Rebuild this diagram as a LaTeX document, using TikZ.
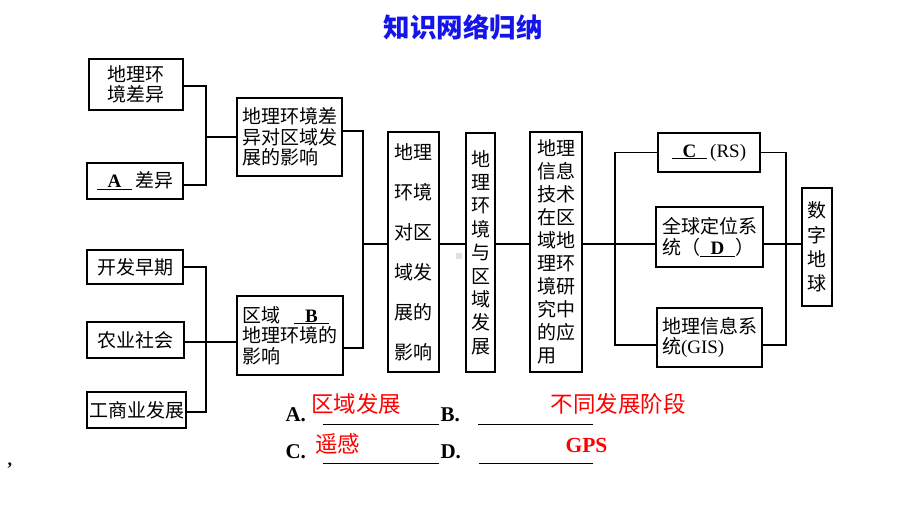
\documentclass[tikz,border=0pt]{standalone}
\usepackage{fontspec}
\setmainfont{Noto Sans CJK SC}
\newfontfamily\lat{Liberation Serif}
\definecolor{titleblue}{RGB}{20,20,235}
\newcommand{\blank}[1]{\underline{\makebox[1.85em]{\lat\bfseries #1}}}
\begin{document}
\begin{tikzpicture}[x=1pt, y=-1pt, line width=1.1pt,
  box/.style={draw, inner sep=0pt, align=left, font=\fontsize{19}{20.5}\selectfont},
  ans/.style={text=red, inner sep=0pt, font=\fontsize{22.5}{22.5}\selectfont},
  letter/.style={anchor=base west, inner sep=0pt, font=\lat\bfseries\fontsize{21}{21}\selectfont}]
\useasboundingbox (0,0) rectangle (920,518);
\node[font=\fontsize{26.5}{26.5}\selectfont\bfseries, text=titleblue] (title) at (463,27) {知识网络归纳};
% left column
\node[box, minimum width=94pt, minimum height=51pt] (cy) at (136,84.5) {地理环\\境差异};
\node[box, minimum width=96pt, minimum height=36pt] (acy) at (135,181) {\blank{A}\,差异};
\node[box, minimum width=96pt, minimum height=34pt] (kfzq) at (135,267) {开发早期};
\node[box, minimum width=97pt, minimum height=36pt] (nysh) at (135.5,340) {农业社会};
\node[box, minimum width=99pt, minimum height=36pt] (gsyfz) at (136.5,410) {工商业发展};
% second column
\node[box, minimum width=105pt, minimum height=78pt] (cyyx) at (289.5,137) {地理环境差\\异对区域发\\展的影响};
\node[box, minimum width=106pt, minimum height=79pt] (qyb) at (290,335.5) {区域\hspace{0.7em}\blank{B}\\地理环境的\\影响};
% middle columns
\node[box, align=center, minimum width=51pt, minimum height=240pt,
  font=\fontsize{19}{40}\selectfont] (dlyx) at (413.5,252) {地理\\环境\\对区\\域发\\展的\\影响};
\node[box, align=center, minimum width=29pt, minimum height=239pt,
  font=\fontsize{19}{23.4}\selectfont] (dlqy) at (480.5,252.5) {地\\理\\环\\境\\与\\区\\域\\发\\展};
\node[box, minimum width=52pt, minimum height=240pt,
  font=\fontsize{19}{23}\selectfont] (xxjs) at (556,252) {地理\\信息\\技术\\在区\\域地\\理环\\境研\\究中\\的应\\用};
% right column
\node[box, minimum width=102pt, minimum height=39pt] (rs) at (709,152.5) {\blank{C}\,{\lat(RS)}};
\node[box, minimum width=107pt, minimum height=60pt] (gps) at (709.5,237) {全球定位系\\统（\blank{D}）};
\node[box, minimum width=105pt, minimum height=59pt] (gis) at (709.5,337.5) {地理信息系\\统{\lat(GIS)}};
\node[box, align=center, minimum width=30pt, minimum height=118pt,
  font=\fontsize{19}{24.4}\selectfont] (szdq) at (817,247) {数\\字\\地\\球};
% junctions
\coordinate (ja) at (206,137);
\coordinate (jb) at (206,342);
\coordinate (hub) at (363,244);
\coordinate (jl) at (615,244);
\coordinate (jr) at (786,244);
\draw ([yshift=-1.5pt]cy.east) -| (ja) |- ([yshift=-4pt]acy.east);
\draw (ja) -- (ja -| cyyx.west);
\draw (kfzq.east) -| (jb) |- ([yshift=-2pt]gsyfz.east);
\draw (nysh.east |- jb) -- (jb -| qyb.west);
\draw ([yshift=6pt]cyyx.east) -| (hub) |- ([yshift=-12.5pt]qyb.east);
\draw (hub) -- (hub -| dlyx.west);
\draw (dlyx.east |- hub) -- (dlqy.west |- hub);
\draw (dlqy.east |- hub) -- (xxjs.west |- hub);
\draw (xxjs.east |- hub) -- (jl);
\draw (rs.west) -| (jl) |- ([yshift=-7.5pt]gis.west);
\draw (jl) -- (jl -| gps.west);
\draw (rs.east) -| (jr) |- ([yshift=-7.5pt]gis.east);
\draw (gps.east |- jr) -- (szdq.west |- jr);
\fill[black!12] (456,253) rectangle (462,259);
% answers
\node[letter] (la) at (285,421) {A.};
\node[letter] (lb) at (440,421) {B.};
\node[letter] (lc) at (285,458) {C.};
\node[letter] (ld) at (440,458) {D.};
\draw[line width=0.9pt] (323,424) -- (439,424) (478,424) -- (593,424)
  (323,463) -- (439,463) (479,463) -- (593,463);
\node[ans] (aa) at (356,404) {区域发展};
\node[ans] (ab) at (618,404) {不同发展阶段};
\node[ans] (ac) at (337.5,444) {遥感};
\node[ans, font=\lat\bfseries\fontsize{21.5}{21.5}\selectfont] (ad) at (586.5,445) {GPS};
\node[inner sep=0pt, font=\lat\bfseries\fontsize{18}{18}\selectfont] (comma) at (10,466) {,};
\end{tikzpicture}
\end{document}
